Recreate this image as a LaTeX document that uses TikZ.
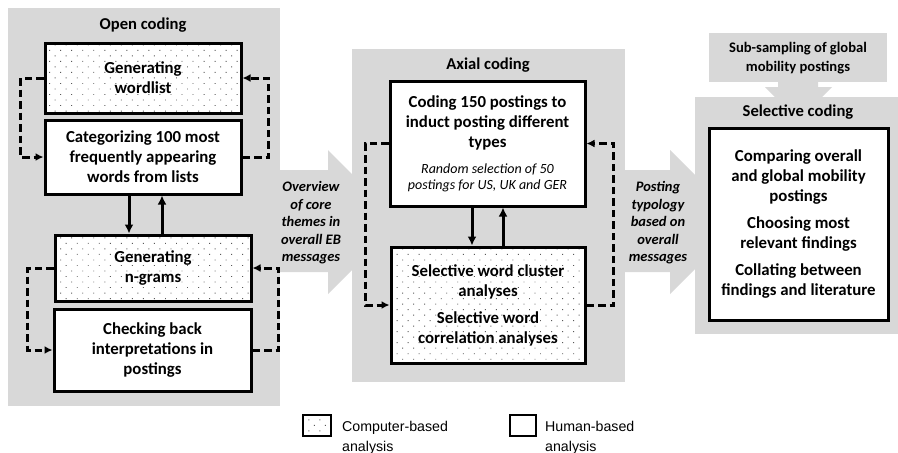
\documentclass[tikz,border=0pt]{standalone}
\usepackage{fontspec}
\setmainfont{Carlito}
\newfontfamily\legendfont{Liberation Sans}
\usetikzlibrary{arrows.meta,patterns.meta}
\definecolor{panelgray}{RGB}{216,216,216}
\begin{document}
\begin{tikzpicture}[x=1pt,y=-1pt,
  panel/.style={fill=panelgray,draw=none},
  paneltitle/.style={inner sep=0pt,font=\fontsize{16.6}{20}\selectfont\bfseries},
  box/.style={draw=black,line width=3pt,fill=white,align=center,inner sep=0pt,font=\fontsize{16.8}{20}\selectfont\bfseries},
  dotbox/.style={box,preaction={fill=white},pattern={Dots[distance=7.8pt,angle=45,radius=0.65pt]},pattern color=black!65},
  flowtext/.style={align=center,inner sep=0pt,font=\fontsize{14.5}{17.5}\selectfont\bfseries\itshape},
  solidarr/.style={line width=3pt,-{Latex[length=9pt,width=9pt]}},
  dasharr/.style={line width=3pt,dash pattern=on 7.5pt off 4pt,-{Latex[length=8pt,width=8pt]}},
  legtext/.style={anchor=west,align=left,inner sep=0pt,font=\legendfont\fontsize{14.2}{20}\selectfont}
]
\useasboundingbox (0,0) rectangle (898,453);

% big grey arrows (behind panels)
\fill[panelgray] (270,170) -- (328,170) -- (328,150) -- (400,222) -- (328,294) -- (328,272) -- (270,272) -- cycle;
\fill[panelgray] (615,170) -- (670,170) -- (670,150) -- (742,222) -- (670,294) -- (670,272) -- (615,272) -- cycle;
\fill[panelgray] (778,75) -- (818,75) -- (818,87) -- (832,87) -- (798.5,121) -- (765,87) -- (778,87) -- cycle;

% panels
\fill[panel] (8,8) rectangle (280,406);
\fill[panel] (352,49) rectangle (625,382);
\fill[panel] (695,97) rectangle (898,334);
\fill[panel] (709,33) rectangle (887,82);

% titles
\node[paneltitle] (t1) at (143,25) {Open coding};
\node[paneltitle] (t2) at (488,65) {Axial coding};
\node[paneltitle] (t3) at (798,112) {Selective coding};
\node[align=center,inner sep=0pt,font=\fontsize{14.6}{18.5}\selectfont\bfseries] (sub) at (798,58) {Sub-sampling of global\\mobility postings};

% open coding boxes
\node[dotbox,minimum width=196pt,minimum height=70pt] (wl) at (143,78) {Generating\\wordlist};
\node[box,minimum width=196pt,minimum height=74pt] (cat) at (143,157) {Categorizing 100 most\\frequently appearing\\words from lists};
\node[dotbox,minimum width=196pt,minimum height=66pt] (ng) at (153,268) {Generating\\n-grams};
\node[box,minimum width=197pt,minimum height=82pt] (chk) at (152.5,350) {Checking back\\interpretations in\\postings};

\coordinate (d1) at (129,0);
\coordinate (u1) at (162,0);
\draw[solidarr] (cat.south -| d1) -- (ng.north -| d1);
\draw[solidarr] (ng.north -| u1) -- (cat.south -| u1);

\draw[dasharr] (wl.west) -- ++(-23,0) |- (cat.west);
\draw[dasharr] (cat.east) -- ++(26,0) |- (wl.east);
\draw[dasharr] (ng.west) -- ++(-26,0) |- (chk.west);
\draw[dasharr] (chk.east) -- ++(26,0) |- (ng.east);

% flow texts
\node[flowtext] (f1) at (311,223) {Overview\\of core\\themes in\\overall EB\\messages};
\node[flowtext] (f2) at (658,223) {Posting\\typology\\based on\\overall\\messages};

% axial coding boxes
\node[box,minimum width=195pt,minimum height=125pt] (code) at (487.5,143.5) {Coding 150 postings to\\induct posting different\\types\\[6pt]{\mdseries\itshape\fontsize{14}{16}\selectfont Random selection of 50}\\[-4pt]{\mdseries\itshape\fontsize{14}{16}\selectfont postings for US, UK and GER}};
\node[dotbox,minimum width=194pt,minimum height=116pt] (sel) at (488,305) {Selective word cluster\\analyses\\[7pt]Selective word\\correlation analyses};

\coordinate (d2) at (472,0);
\coordinate (u2) at (503,0);
\draw[solidarr] (code.south -| d2) -- (sel.north -| d2);
\draw[solidarr] (sel.north -| u2) -- (code.south -| u2);

\draw[dasharr] (code.west) -- ++(-23,0) |- (sel.west);
\draw[dasharr] (sel.east) -- ++(27,0) |- (code.east);

% selective coding box
\node[box,minimum width=179pt,minimum height=192pt] (selc) at (798.5,224) {Comparing overall\\and global mobility\\postings\\[7pt]Choosing most\\relevant findings\\[7pt]Collating between\\findings and literature};

% legend
\node[dotbox,line width=2.5pt,minimum width=28pt,minimum height=21pt] (lg1) at (317,425.5) {};
\node[legtext] (lt1) at (342,438) {Computer-based\\analysis};
\node[box,line width=2.5pt,minimum width=26pt,minimum height=21pt] (lg2) at (523,425.5) {};
\node[legtext] (lt2) at (545,438) {Human-based\\analysis};
\end{tikzpicture}
\end{document}
